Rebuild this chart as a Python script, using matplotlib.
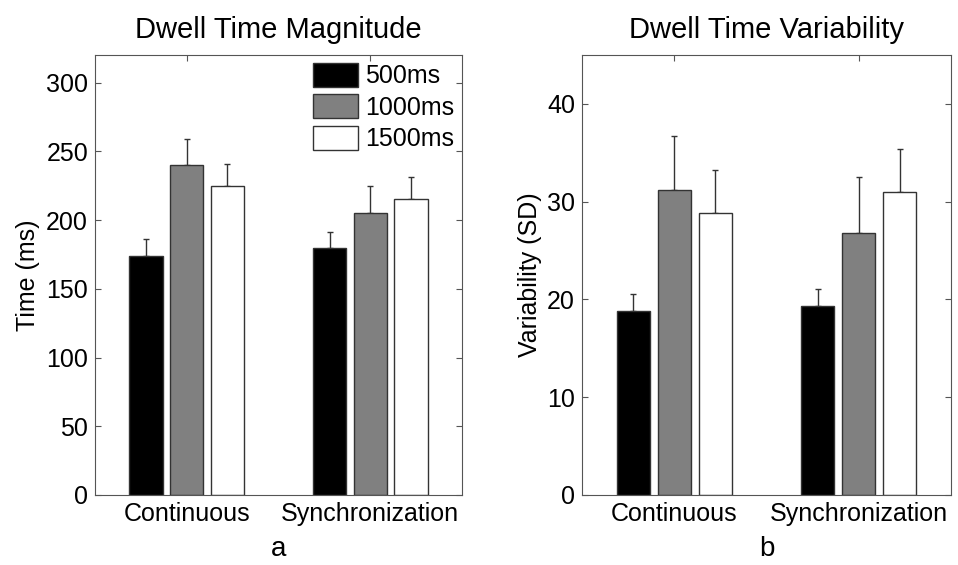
import matplotlib.pyplot as plt
import numpy as np

plt.rcParams['font.family'] = ['Liberation Sans', 'DejaVu Sans']

groups = ["Continuous", "Synchronization"]
series = ["500ms", "1000ms", "1500ms"]
colors = ["black", "#808080", "white"]

# panel a: dwell time magnitude (ms)
mag_mean = [[174, 180], [240, 205], [225, 215]]
mag_top = [[186, 191], [259, 225], [241, 231]]

# panel b: dwell time variability (SD)
var_mean = [[18.8, 19.3], [31.2, 26.8], [28.8, 31.0]]
var_top = [[20.6, 21.1], [36.7, 32.5], [33.2, 35.4]]


def draw(ax, means, tops, ylim, yticks, title, ylabel, xlabel, legend=False):
    x = np.arange(1, len(groups) + 1)
    width = 0.18
    offsets = [-0.222, 0, 0.222]
    for i, name in enumerate(series):
        m = np.array(means[i])
        err = np.array(tops[i]) - m
        ax.bar(x + offsets[i], m, width, color=colors[i], edgecolor="#333333",
               linewidth=1, label=name, zorder=2)
        ax.errorbar(x + offsets[i], m, yerr=[np.zeros_like(err), err], fmt="none",
                    ecolor="#333333", elinewidth=1, capsize=2, zorder=1)
    ax.set_xlim(0.5, 2.5)
    ax.set_ylim(*ylim)
    ax.set_yticks(yticks)
    ax.set_xticks(x)
    ax.set_xticklabels(groups)
    ax.tick_params(direction="in", top=True, right=True, labelsize=18, length=4,
                   color="#555555", pad=5)
    for s in ax.spines.values():
        s.set_color("#555555")
    ax.set_title(title, fontsize=21, pad=12)
    ax.set_ylabel(ylabel, fontsize=18, labelpad=4)
    ax.set_xlabel(xlabel, fontsize=20, labelpad=7)
    if legend:
        ax.legend(loc="upper right", frameon=False, fontsize=18, handlelength=1.8,
                  handleheight=1.1, handletextpad=0.3, labelspacing=0.25,
                  borderaxespad=0.2, borderpad=0.1)


fig = plt.figure(figsize=(9.58, 5.65), dpi=100)
ax1 = fig.add_axes([95 / 958, 70 / 565, 367 / 958, 440 / 565])
ax2 = fig.add_axes([582 / 958, 70 / 565, 369 / 958, 440 / 565])

draw(ax1, mag_mean, mag_top, (0, 320), range(0, 301, 50),
     "Dwell Time Magnitude", "Time (ms)", "a", legend=True)
draw(ax2, var_mean, var_top, (0, 45), range(0, 41, 10),
     "Dwell Time Variability", "Variability (SD)", "b")

fig.savefig("out.png", dpi=100)
